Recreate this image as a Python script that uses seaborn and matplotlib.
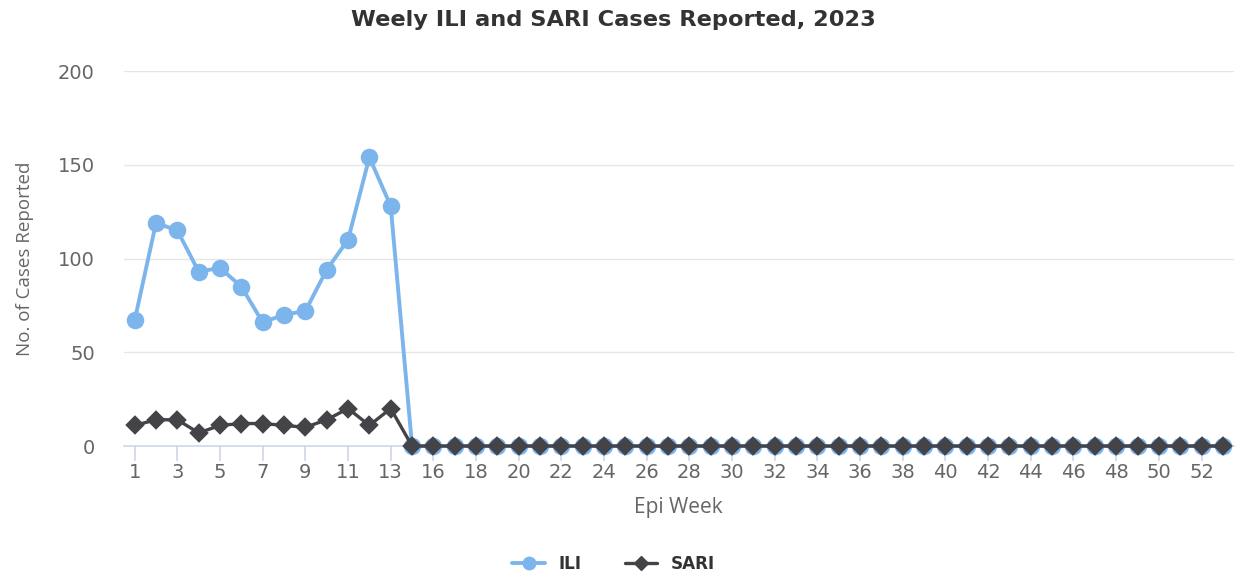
import pandas as pd
import seaborn as sns
import matplotlib.pyplot as plt
from matplotlib.lines import Line2D

# Weekly ILI and SARI cases, 2023
weeks = list(range(1, 15)) + list(range(16, 54))
ili = [67, 119, 115, 93, 95, 85, 66, 70, 72, 94, 110, 154, 128] + [0] * 39
sari = [11, 14, 14, 7, 11, 12, 12, 11, 10, 14, 20, 11, 20] + [0] * 39

df = pd.DataFrame({'Week': [str(w) for w in weeks], 'ILI': ili, 'SARI': sari})
order = [str(w) for w in weeks]

sns.set_style('white')
plt.rcParams['font.family'] = ['Open Sans', 'DejaVu Sans']

fig = plt.figure(figsize=(12.35, 5.73), dpi=100)
ax = fig.add_axes([0.1004, 0.2216, 0.8984, 0.6544])

ili_color = '#7cb5ec'
sari_color = '#434348'

sns.pointplot(data=df, x='Week', y='ILI', order=order, color=ili_color,
              markers='o', markersize=10.5, linewidth=2.8, ax=ax, errorbar=None)
sns.pointplot(data=df, x='Week', y='SARI', order=order, color=sari_color,
              markers='D', markersize=8, linewidth=2.4, ax=ax, errorbar=None)

for coll in ax.lines + ax.collections:
    coll.set_clip_on(False)

ax.set_xlim(-0.5, len(weeks) - 0.5)
ax.set_ylim(0, 200)
ax.set_yticks([0, 50, 100, 150, 200])
ax.yaxis.grid(True, color='#e6e6e6', linewidth=1)
ax.set_axisbelow(True)

tick_pos = list(range(0, len(weeks), 2))
ax.set_xticks(tick_pos)
ax.set_xticklabels([order[i] for i in tick_pos])

for side in ['top', 'right', 'left']:
    ax.spines[side].set_visible(False)
ax.spines['bottom'].set_color('#ccd6eb')
ax.spines['bottom'].set_linewidth(1.2)
ax.spines['bottom'].set_zorder(0)

ax.tick_params(axis='x', bottom=True, colors='#ccd6eb', length=11, width=1.2,
               labelcolor='#666666', pad=1)
ax.tick_params(axis='y', left=False, length=0, labelcolor='#666666', pad=21)
for lbl in ax.get_xticklabels() + ax.get_yticklabels():
    lbl.set_fontfamily('DejaVu Sans')
    lbl.set_fontsize(14)

ax.set_xlabel('Epi Week', fontsize=15, color='#666666', labelpad=11)
ax.set_ylabel('No. of Cases Reported', fontsize=13.5, color='#666666',
              labelpad=17)
fig.text(0.497, 1 - 20 / 573, 'Weely ILI and SARI Cases Reported, 2023',
         ha='center', va='center', fontsize=16.2, color='#333333',
         fontweight='bold', family='DejaVu Sans')

handles = [
    Line2D([], [], color=ili_color, marker='o', markersize=9, linewidth=2.8),
    Line2D([], [], color=sari_color, marker='D', markersize=7, linewidth=2.4),
]
leg = fig.legend(handles, ['ILI', 'SARI'], loc='lower center', ncol=2,
                 frameon=False, bbox_to_anchor=(0.497, -0.027), handlelength=1.9,
                 handletextpad=0.8, columnspacing=2.6,
                 prop={'weight': 'bold', 'size': 12.2, 'family': 'DejaVu Sans'})
for t in leg.get_texts():
    t.set_color('#333333')

fig.savefig('out.png', dpi=100)
